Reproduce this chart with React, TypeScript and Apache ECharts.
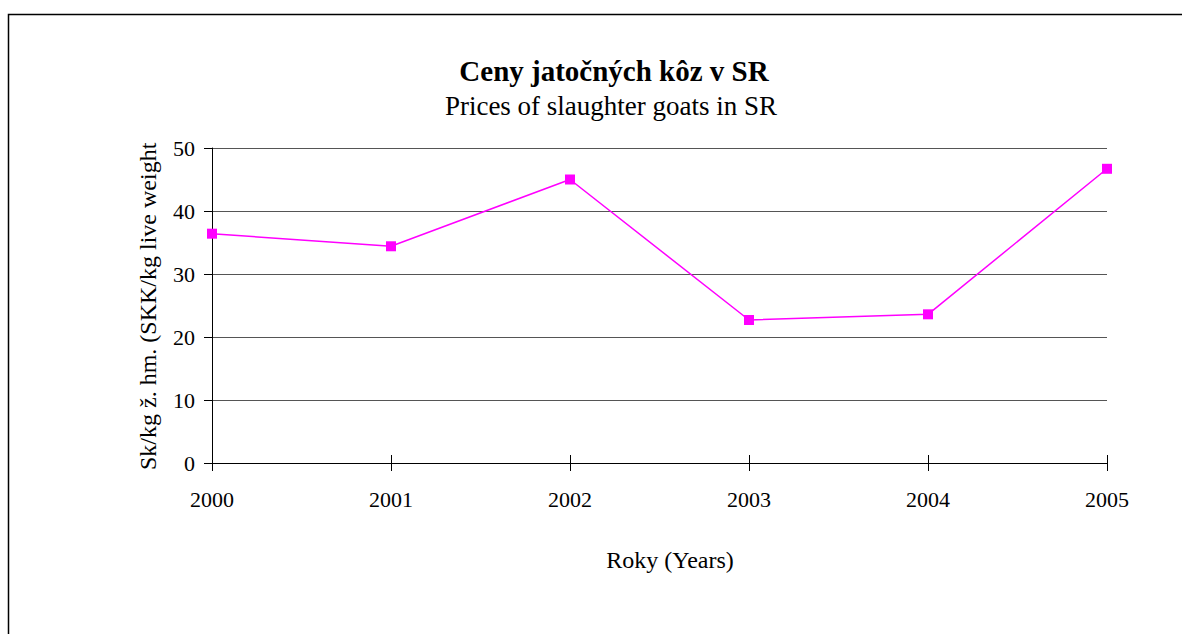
import React, { useEffect, useRef } from "react";
import * as echarts from "echarts";

const years = ["2000", "2001", "2002", "2003", "2004", "2005"];
const prices = [36.4, 34.4, 45.0, 22.7, 23.6, 46.7];
const yTicks = { min: 0, max: 50, interval: 10 };
const titleMain = "Ceny jatočných kôz v SR";
const titleSub = "Prices of slaughter goats in SR";
const yName = "Sk/kg ž. hm. (SKK/kg live weight";
const xName = "Roky (Years)";

const FONT = "'Liberation Serif', 'Times New Roman', serif";

export default function App() {
  const ref = useRef<HTMLDivElement>(null);
  useEffect(() => {
    if (!ref.current) return;
    const chart = echarts.init(ref.current, undefined, { renderer: "svg" });
    chart.setOption({
      animation: false,
      backgroundColor: "#ffffff",
      grid: { left: 212, right: 75, top: 148, bottom: 171, containLabel: false },
      xAxis: [
        {
          type: "category",
          data: years,
          boundaryGap: false,
          position: "bottom",
          axisLine: { lineStyle: { color: "#000", width: 1 } },
          axisTick: { show: true, inside: false, length: 8, lineStyle: { color: "#000" } },
          axisLabel: { color: "#000", fontFamily: FONT, fontSize: 22, margin: 25 },
          splitLine: { show: false },
        },
        {
          type: "category",
          data: years,
          boundaryGap: false,
          position: "bottom",
          axisLine: { show: false },
          axisTick: { show: true, inside: true, length: 8, lineStyle: { color: "#000" } },
          axisLabel: { show: false },
          splitLine: { show: false },
        },
      ],
      yAxis: {
        type: "value",
        min: yTicks.min,
        max: yTicks.max,
        interval: yTicks.interval,
        axisLine: { show: true, lineStyle: { color: "#000", width: 1 } },
        axisTick: { show: true, inside: false, length: 8, lineStyle: { color: "#000" } },
        axisLabel: { color: "#000", fontFamily: FONT, fontSize: 22, margin: 17 },
        splitLine: { show: true, lineStyle: { color: "#555", width: 1.2 } },
      },
      series: [
        {
          type: "line",
          data: prices,
          xAxisIndex: 0,
          symbol: "rect",
          symbolSize: 10,
          lineStyle: { color: "#ff00ff", width: 1.5 },
          itemStyle: { color: "#ff00ff" },
          z: 5,
        },
      ],
      graphic: [
        {
          type: "rect",
          shape: { x: 8.5, y: 14.5, width: 1300, height: 800 },
          style: { fill: "none", stroke: "#000", lineWidth: 1.5 },
          silent: true,
          z: -1,
        },
        {
          type: "text",
          x: 614,
          y: 71,
          style: {
            text: titleMain,
            font: `bold 29px ${FONT}`,
            fill: "#000",
            textAlign: "center",
            textVerticalAlign: "middle",
          },
        },
        {
          type: "text",
          x: 611,
          y: 106,
          style: {
            text: titleSub,
            font: `27px ${FONT}`,
            fill: "#000",
            textAlign: "center",
            textVerticalAlign: "middle",
          },
        },
        {
          type: "text",
          x: 670,
          y: 560,
          style: {
            text: xName,
            font: `24px ${FONT}`,
            fill: "#000",
            textAlign: "center",
            textVerticalAlign: "middle",
          },
        },
        {
          type: "text",
          x: 148,
          y: 470,
          rotation: Math.PI / 2,
          style: {
            text: yName,
            font: `24px ${FONT}`,
            fill: "#000",
            textAlign: "left",
            textVerticalAlign: "middle",
          },
        },
      ],
    });
    return () => chart.dispose();
  }, []);
  return (
    <div
      ref={ref}
      style={{ position: "absolute", left: 0, top: 0, width: 1182, height: 634 }}
    />
  );
}
